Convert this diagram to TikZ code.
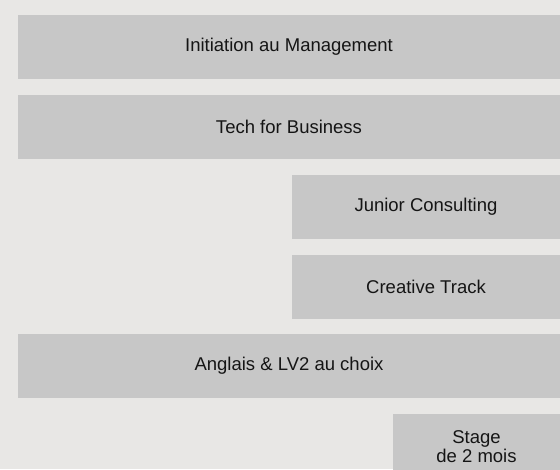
\documentclass[tikz,border=0pt]{standalone}
\usepackage{fontspec}
\setmainfont{Liberation Sans}
\definecolor{bgc}{HTML}{E8E7E5}
\definecolor{boxc}{HTML}{C7C7C7}
\definecolor{txtc}{HTML}{151515}
\begin{document}
\begin{tikzpicture}[x=1pt,y=-1pt,
  bar/.style={fill=boxc,draw=none,inner sep=0pt,outer sep=0pt,text=txtc,
    font=\fontsize{18.5}{20}\selectfont,align=center}]
\useasboundingbox (0,0) rectangle (560,469);
\fill[bgc] (0,0) rectangle (560,469);
\begin{scope}
\clip (0,0) rectangle (560,469);
\node[bar,minimum width=542pt,minimum height=64pt,anchor=north west] (init) at (18,15) {Initiation au Management};
\node[bar,minimum width=542pt,minimum height=64pt,anchor=north west] (tech) at (18,95) {Tech for Business};
\node[bar,minimum width=268pt,minimum height=64pt,anchor=north west] (junior) at (292,175) {Junior Consulting};
\node[bar,minimum width=268pt,minimum height=64pt,anchor=north west] (creative) at (292,255) {Creative Track};
\node[bar,minimum width=542pt,minimum height=64pt,anchor=north west] (anglais) at (18,334) {Anglais \& LV2 au choix};
\node[bar,minimum width=167pt,minimum height=66pt,anchor=north west,font=\fontsize{18.5}{19}\selectfont] (stage) at (393,414) {Stage\\de 2 mois};
\end{scope}
\end{tikzpicture}
\end{document}
